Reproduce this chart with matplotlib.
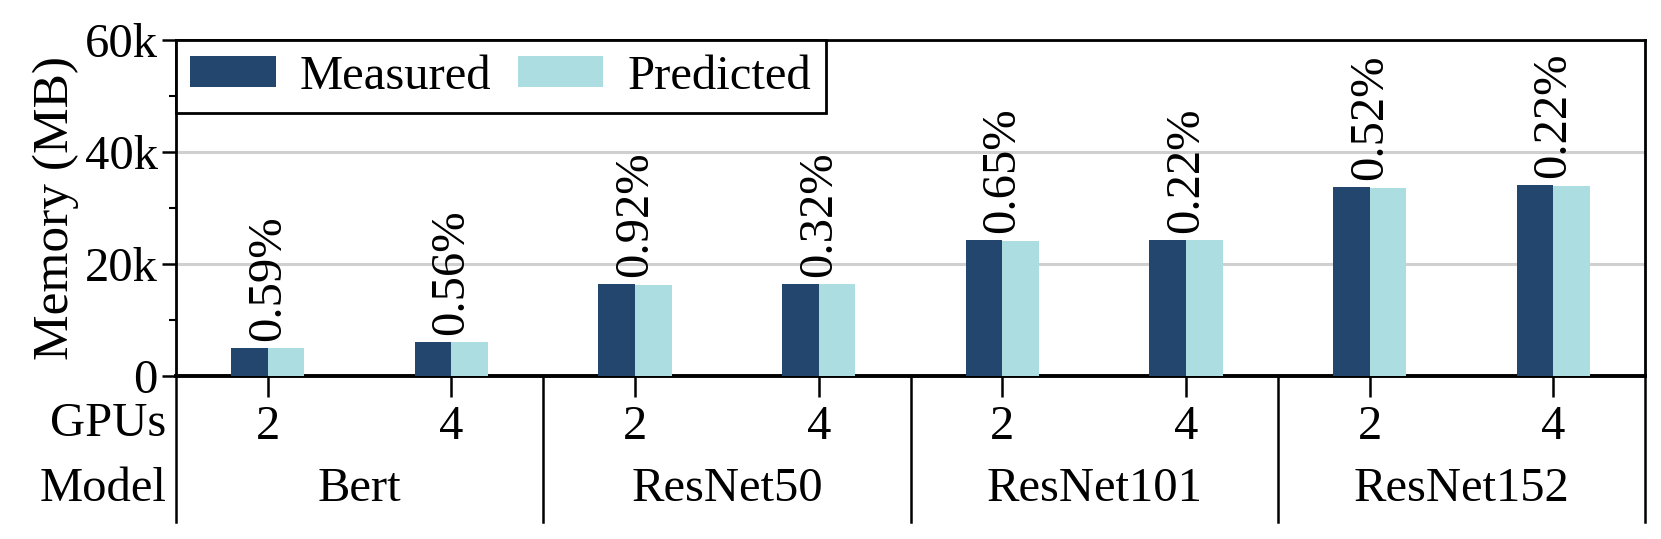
import matplotlib
matplotlib.use("Agg")
import matplotlib.pyplot as plt
import numpy as np
from matplotlib.lines import Line2D

plt.rcParams["font.family"] = ["Liberation Serif", "DejaVu Serif"]

models = ["Bert", "ResNet50", "ResNet101", "ResNet152"]
gpus = ["2", "4", "2", "4", "2", "4", "2", "4"]
measured = [4.95, 6.05, 16.45, 16.45, 24.25, 24.35, 33.85, 34.15]   # k MB
predicted = [4.92, 6.02, 16.3, 16.4, 24.1, 24.3, 33.67, 34.0]       # k MB
errors = ["0.59%", "0.56%", "0.92%", "0.32%", "0.65%", "0.22%", "0.52%", "0.22%"]
yticks = [0, 20, 40, 60]
ytick_labels = ["0", "20k", "40k", "60k"]

c_meas = "#22466e"
c_pred = "#abdde1"
fs = 35

fig = plt.figure(figsize=(16.61, 5.39), dpi=100)
ax = fig.add_axes([0.1059, 0.3024, 0.8846, 0.6229])

x = np.arange(len(measured))
w = 0.2
ax.bar(x - w/2, measured, w, color=c_meas, label="Measured", zorder=3)
ax.bar(x + w/2, predicted, w, color=c_pred, label="Predicted", zorder=3)

for xi, m, t in zip(x, measured, errors):
    ax.annotate(t, (xi, m), xytext=(0, 5), textcoords="offset points",
                rotation=90, ha="center", va="bottom", fontsize=fs)

ax.set_xlim(-0.5, len(x) - 0.5)
ax.set_ylim(0, 60)
ax.set_yticks(yticks)
ax.set_yticklabels(ytick_labels, fontsize=fs)
ax.set_yticks([10, 30, 50], minor=True)
ax.set_xticks(x)
ax.set_xticklabels([])
ax.tick_params(axis="y", which="major", length=10, width=1.8, pad=3)
ax.tick_params(axis="y", which="minor", length=5, width=1.5)
ax.tick_params(axis="x", which="major", length=15, width=1.8)
ax.grid(axis="y", color="#d0d0d0", lw=2.2, zorder=0)
for s in ax.spines.values():
    s.set_linewidth(2)
ax.spines["bottom"].set_linewidth(2.8)
ax.set_ylabel("Memory (MB)", fontsize=37, labelpad=4)

# category rows under the axes
trans = ax.get_xaxis_transform()
ax.text(-0.0065, -0.142, "GPUs", transform=ax.transAxes, ha="right",
        va="center", fontsize=fs)
ax.text(-0.0065, -0.337, "Model", transform=ax.transAxes, ha="right",
        va="center", fontsize=fs)
for xi, g in zip(x, gpus):
    ax.text(xi, -0.152, g, transform=trans, ha="center", va="center",
            fontsize=fs)
for i, m in enumerate(models):
    ax.text(2*i + 0.5, -0.337, m, transform=trans, ha="center", va="center",
            fontsize=fs)
for b in [-0.5, 1.5, 3.5, 5.5, 7.5]:
    ax.add_line(Line2D([b, b], [0, -0.435], transform=trans, color="black",
                       lw=1.8, clip_on=False))

leg = ax.legend(loc="upper left", ncol=2, fontsize=fs, frameon=True,
                fancybox=False, borderaxespad=0, handlelength=1.75,
                handleheight=0.6, columnspacing=0.55, handletextpad=0.5,
                borderpad=0.3)
leg.get_frame().set_edgecolor("black")
leg.get_frame().set_linewidth(2)
leg.get_frame().set_alpha(1)

fig.savefig("out.png", dpi=100)
